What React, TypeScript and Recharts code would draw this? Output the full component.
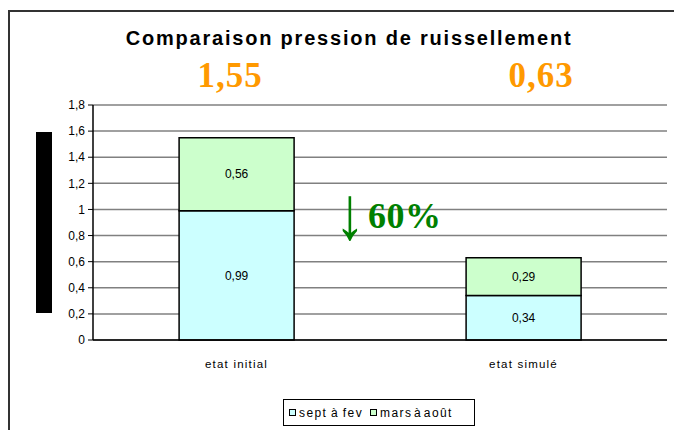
import React from "react";
import { BarChart, Bar, XAxis, YAxis, CartesianGrid, LabelList } from "recharts";

const categories = ["etat initial", "etat simulé"];
const septAFev = [0.99, 0.34];
const marsAAout = [0.56, 0.29];
const totals = ["1,55", "0,63"];
const seriesNames = ["sept à fev", "mars à août"];
const seriesColors = ["#CCFFFF", "#CCFFCC"];
const yTicks = [0, 0.2, 0.4, 0.6, 0.8, 1, 1.2, 1.4, 1.6, 1.8];
const title = "Comparaison pression de ruissellement";
const reductionArrow = "↓";
const reductionText = "60%";

const data = categories.map((c, i) => ({ name: c, s1: septAFev[i], s2: marsAAout[i] }));

const fmt = (v: any) => String(v).replace(".", ",");
const SANS = "Arial, 'Liberation Sans', sans-serif";
const SERIF = "'Times New Roman', 'Liberation Serif', 'DejaVu Serif', serif";

export default function App() {
  return (
    <div style={{ position: "absolute", left: 0, top: 0, width: 674, height: 430, background: "#fff", overflow: "hidden", fontFamily: SANS }}>
      <div style={{ position: "absolute", left: 8, top: 10, width: 700, height: 500, borderLeft: "2px solid #333", borderTop: "2px solid #333" }} />
      <BarChart width={674} height={430} data={data} margin={{ top: 105, right: 7, left: 0, bottom: 60 }} barCategoryGap="30%" style={{ position: "absolute", left: 0, top: 0 }}>
        <CartesianGrid yAxisId="left" vertical={false} stroke="#808080" strokeWidth={1.5} />
        <XAxis dataKey="name" height={30} axisLine={{ stroke: "#000", strokeWidth: 1.5 }} tickLine={false} tickMargin={14}
          tick={{ fill: "#000", fontSize: 11.5, fontFamily: SANS, letterSpacing: 1.2 } as any} />
        <YAxis yAxisId="left" width={93} domain={[0, 1.8]} ticks={yTicks} tickFormatter={fmt} interval={0}
          axisLine={{ stroke: "#000", strokeWidth: 1.5 }} tickLine={{ stroke: "#000" }} tickSize={5} tickMargin={3}
          tick={{ fill: "#000", fontSize: 12, fontFamily: SANS }} />
        <YAxis yAxisId="right" orientation="right" width={0} domain={[0, 1.8]} tick={false} tickLine={false} axisLine={{ stroke: "#808080", strokeWidth: 1.5 }} />
        <Bar yAxisId="left" dataKey="s1" name={seriesNames[0]} stackId="a" fill={seriesColors[0]} stroke="#000" strokeWidth={1.5} isAnimationActive={false}>
          <LabelList dataKey="s1" position="center" formatter={fmt} fill="#000" fontSize={12} fontFamily={SANS} />
        </Bar>
        <Bar yAxisId="left" dataKey="s2" name={seriesNames[1]} stackId="a" fill={seriesColors[1]} stroke="#000" strokeWidth={1.5} isAnimationActive={false}>
          <LabelList dataKey="s2" position="center" formatter={fmt} fill="#000" fontSize={12} fontFamily={SANS} />
        </Bar>
      </BarChart>
      <div style={{ position: "absolute", left: 0, width: 698, top: 27, textAlign: "center", fontSize: 20, fontWeight: "bold", color: "#000", letterSpacing: 1.8, whiteSpace: "nowrap" }}>{title}</div>
      {totals.map((t, i) => (
        <div key={t} style={{ position: "absolute", left: i === 0 ? 180 : 491, width: 100, top: 56, textAlign: "center", fontFamily: SERIF, fontWeight: "bold", fontSize: 35, letterSpacing: 1, color: "#FF9900" }}>{t}</div>
      ))}
      <div style={{ position: "absolute", left: 341, top: 195, fontFamily: SERIF, fontWeight: "bold", fontSize: 36, color: "#008000", whiteSpace: "nowrap", display: "flex", alignItems: "center" }}>
        <span style={{ display: "inline-block", transform: "scale(1.7, 2.1)", transformOrigin: "center 55%", fontWeight: "bold", marginRight: 9 }}>{reductionArrow}</span>
        <span style={{ letterSpacing: 0.5 }}>{reductionText}</span>
      </div>
      <div style={{ position: "absolute", left: 36, top: 132, width: 16, height: 181, background: "#000" }} />
      <div style={{ position: "absolute", left: 283, top: 399, width: 192, height: 27, border: "1px solid #000", boxSizing: "border-box", display: "flex", alignItems: "center", paddingLeft: 5, gap: 7, fontSize: 12, letterSpacing: 1.4 }}>
        {seriesNames.map((n, i) => (
          <div key={n} style={{ display: "flex", alignItems: "center", gap: 3 }}>
            <span style={{ display: "inline-block", width: 5, height: 5, border: "1.5px solid #000", background: seriesColors[i] }} />
            <span style={{ wordSpacing: i === 1 ? -3 : -1 }}>{n}</span>
          </div>
        ))}
      </div>
    </div>
  );
}
